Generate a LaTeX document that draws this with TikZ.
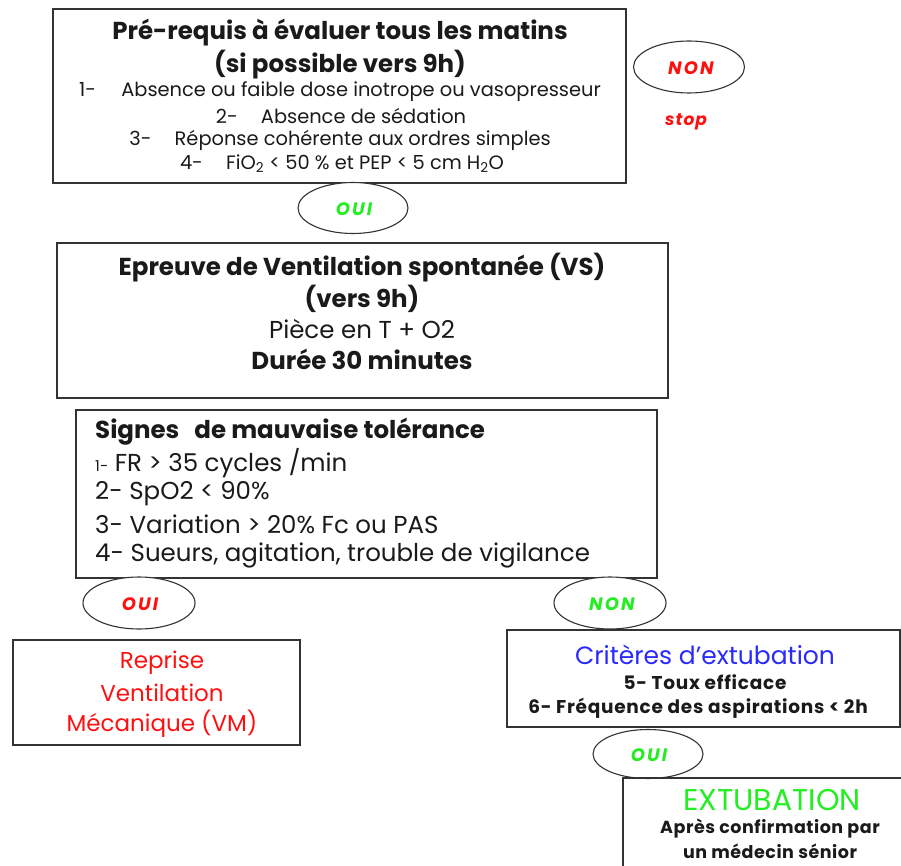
\documentclass[tikz,border=0pt]{standalone}
\usepackage{fontspec}
\setmainfont{Poppins}
\usetikzlibrary{shapes.geometric}
\definecolor{myred}{HTML}{FF1010}
\definecolor{mygreen}{HTML}{22EE22}
\definecolor{myblue}{HTML}{2A2AFF}
\definecolor{edgecol}{HTML}{333333}
\definecolor{txtcol}{HTML}{1A1A1A}
\begin{document}
\begin{tikzpicture}[x=1pt,y=-1pt,
  box/.style={draw=edgecol, line width=1.8pt, rectangle, inner sep=0pt},
  oval/.style={draw=edgecol, line width=1.1pt, ellipse, inner sep=0pt},
  txt/.style={inner sep=0pt, anchor=center, text=txtcol},
  lft/.style={inner sep=0pt, anchor=west, text=txtcol},
  lab/.style={inner sep=0pt, font=\fontsize{18}{18}\selectfont\bfseries\itshape\addfontfeatures{LetterSpace=12}},
  big/.style={font=\fontsize{24.5}{24.5}\selectfont},
  bigb/.style={font=\fontsize{24.5}{24.5}\selectfont\bfseries},
  small/.style={font=\fontsize{19.4}{19.4}\selectfont},
  medb/.style={font=\fontsize{18.5}{18.5}\selectfont\bfseries\addfontfeatures{LetterSpace=4}}
]
\useasboundingbox (0,0) rectangle (901,866);
\fill[white] (0,0) rectangle (901,866);

% Box 1
\node[box, minimum width=573pt, minimum height=174pt] (b1) at (339.5,96) {};
\node[txt, bigb] (b1t1) at (340,33) {Pré-requis à évaluer tous les matins};
\node[txt, bigb] (b1t2) at (340,65) {(si possible vers 9h)};
\node[txt, small] (b1i1) at (340,92) {1-\hspace{1.3em}Absence ou faible dose inotrope ou vasopresseur};
\node[txt, small] (b1i2) at (341,116) {2-\hspace{1.2em}Absence de sédation};
\node[txt, small] (b1i3) at (340,140) {3-\hspace{1.2em}Réponse cohérente aux ordres simples};
\node[txt, small] (b1i4) at (342,164) {4-\hspace{1.2em}FiO\textsubscript{2} < 50 \% et PEP < 5 cm H\textsubscript{2}O};

% NON / stop
\node[oval, minimum width=111pt, minimum height=52pt] (non1) at (689,67) {};
\node[lab, text=myred] (non1t) at (691,68) {NON};
\node[lab, text=myred, font=\fontsize{17}{17}\selectfont\bfseries\itshape\addfontfeatures{LetterSpace=6}] (stop) at (686,122) {stop};

% OUI top
\node[oval, fill=white, minimum width=110pt, minimum height=51pt] (oui1) at (353,208) {};
\node[lab, text=mygreen] (oui1t) at (354,209) {OUI};

% Box 2
\node[box, minimum width=611pt, minimum height=155pt] (b2) at (362.5,320.5) {};
\node[txt, bigb] (b2t1) at (362,268) {Epreuve de Ventilation spontanée (VS)};
\node[txt, bigb] (b2t2) at (362,299) {(vers 9h)};
\node[txt, big] (b2t3) at (362,329) {Pièce en T + O2};
\node[txt, bigb] (b2t4) at (362,359) {Durée 30 minutes};

% Box 3
\node[box, minimum width=581pt, minimum height=168pt] (b3) at (366.5,494) {};
\node[lft, bigb] (b3t1) at (95,432) {Signes\hspace{0.4em} de mauvaise tolérance};
\node[lft, big] (b3t2) at (95,463) {{\fontsize{15}{15}\selectfont 1-} FR > 35 cycles /min};
\node[lft, big] (b3t3) at (95,494) {2- SpO2 < 90\%};
\node[lft, big] (b3t4) at (95,524) {3- Variation > 20\% Fc ou PAS};
\node[lft, big] (b3t5) at (95,555) {4- Sueurs, agitation, trouble de vigilance};

% OUI red / NON green
\node[oval, fill=white, minimum width=112pt, minimum height=52pt] (oui2) at (139,603) {};
\node[lab, text=myred] (oui2t) at (140,604) {OUI};
\node[oval, fill=white, minimum width=112pt, minimum height=52pt] (non2) at (610,603) {};
\node[lab, text=mygreen] (non2t) at (612,604) {NON};

% VM box
\node[box, minimum width=287pt, minimum height=105pt] (vm) at (156.5,692.5) {};
\node[txt, text=myred, font=\fontsize{23}{23}\selectfont] (vm1) at (162,663) {Reprise};
\node[txt, text=myred, font=\fontsize{23}{23}\selectfont] (vm2) at (162,693) {Ventilation};
\node[txt, text=myred, font=\fontsize{23}{23}\selectfont] (vm3) at (162,724) {Mécanique (VM)};

% Criteres box
\node[box, minimum width=393pt, minimum height=97pt] (cr) at (703.5,678.5) {};
\node[txt, text=myblue, font=\fontsize{25}{25}\selectfont] (cr1) at (705,655) {Critères d'extubation};
\node[txt, medb] (cr2) at (705,682) {5- Toux efficace};
\node[txt, medb] (cr3) at (698,708) {6- Fréquence des aspirations < 2h};

% OUI bottom
\node[oval, fill=white, minimum width=110pt, minimum height=49pt] (oui3) at (648,754) {};
\node[lab, text=mygreen] (oui3t) at (649,755) {OUI};

% Extubation box (runs past the edges)
\begin{scope}
\clip (0,0) rectangle (901,866);
\node[box, minimum width=337pt, minimum height=122pt] (ex) at (791.5,839) {};
\end{scope}
\node[txt, text=mygreen, font=\fontsize{30}{30}\selectfont] (ex1) at (772,800) {EXTUBATION};
\node[txt, font=\fontsize{17.5}{17.5}\selectfont\bfseries\addfontfeatures{LetterSpace=3}] (ex2) at (770,829) {Après confirmation par};
\node[txt, font=\fontsize{17.5}{17.5}\selectfont\bfseries\addfontfeatures{LetterSpace=3}] (ex3) at (770,851) {un médecin sénior};
\end{tikzpicture}
\end{document}
